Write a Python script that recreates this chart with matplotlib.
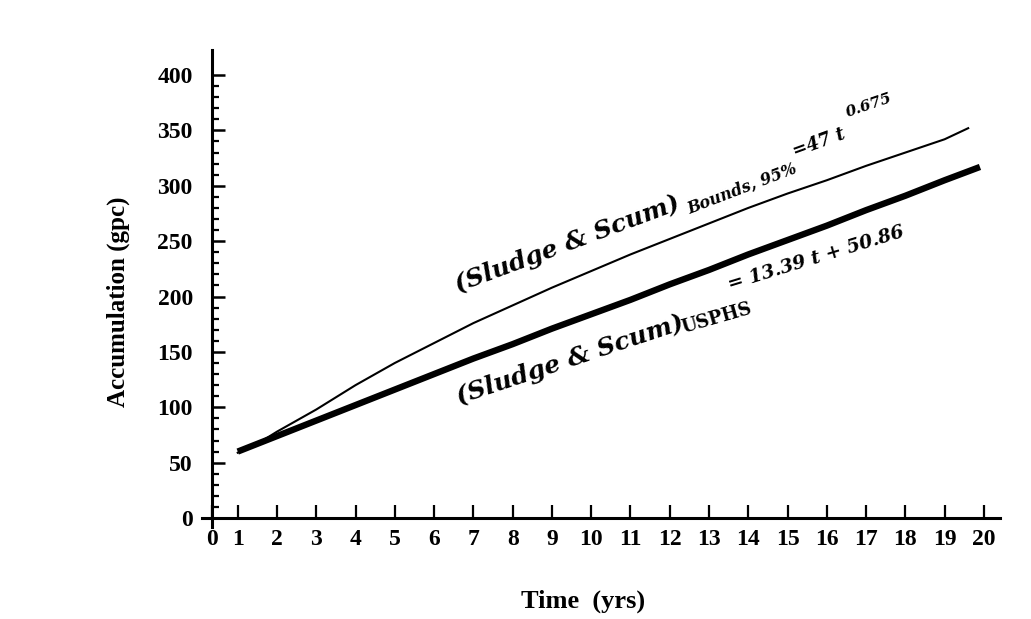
import numpy as np
import matplotlib
matplotlib.use("Agg")
import matplotlib.pyplot as plt

# values (gallons per capita vs years)
t_usphs = [1, 2, 3, 4, 5, 6, 7, 8, 9, 10, 11, 12, 13, 14, 15, 16, 17, 18, 19, 19.9]
acc_usphs = [60, 74, 88, 102, 116, 130, 144, 157, 171, 184, 197, 211, 224, 238, 251, 264, 278, 291, 305, 317]

t_bounds = [1, 1.5, 2, 3, 4, 5, 6, 7, 8, 9, 10, 11, 12, 13, 14, 15, 16, 17, 18, 19, 19.6]
acc_bounds = [59, 67, 78, 98, 120, 140, 158, 176, 192, 208, 223, 238, 252, 266, 280, 293, 305, 318, 330, 342, 352]

x_ticks = [0, 1, 2, 3, 4, 5, 6, 7, 8, 9, 10, 11, 12, 13, 14, 15, 16, 17, 18, 19, 20]
y_major = [0, 50, 100, 150, 200, 250, 300, 350, 400]

plt.rcParams['font.family'] = 'Liberation Serif'
plt.rcParams['font.weight'] = 'bold'

W, H = 1031, 619
fig = plt.figure(figsize=(W / 100, H / 100), dpi=100)
ax = fig.add_axes([202 / W, 1 - 527 / H, (1000 - 202) / W, (527 - 50) / H])

# the hand drawn axis puts "0" closer to "1" than the other spacings
x0 = 0.35
ax.set_xlim(0.09, 20.41)
ax.set_ylim(-8.1, 422.6)

ax.plot(t_usphs, acc_usphs, color='black', lw=4.6, solid_capstyle='butt')
ax.plot(t_bounds, acc_bounds, color='black', lw=1.5)

for s in ['top', 'right']:
    ax.spines[s].set_visible(False)
ax.spines['left'].set_position(('data', x0))
ax.spines['bottom'].set_position(('data', 0))
ax.spines['left'].set_linewidth(2.2)
ax.spines['bottom'].set_linewidth(2.2)

ax.set_xticks([x0] + x_ticks[1:])
ax.set_xticklabels([str(v) for v in x_ticks])
ax.set_yticks(y_major)
ax.set_yticks(np.arange(10, 400, 10), minor=True)
ax.tick_params(axis='x', direction='in', length=9.5, width=1.6, pad=8, labelsize=17)
ax.tick_params(axis='y', which='major', direction='in', length=9.5, width=1.8, pad=14, labelsize=17)
ax.tick_params(axis='y', which='minor', direction='in', length=5, width=1.6)

fig.text(118 / W, 1 - 302 / H, 'Accumulation (gpc)', rotation=90, ha='center', va='center',
         fontsize=18, fontweight='bold')
fig.text(583 / W, 1 - 601 / H, 'Time  (yrs)', ha='center', va='center',
         fontsize=19, fontweight='bold')


def lbl(x, y, s, fs, rot, style='italic'):
    ax.text(x, y, s, fontsize=fs, rotation=rot, rotation_mode='anchor',
            ha='left', va='baseline', family='DejaVu Serif', style=style, weight='bold')


# upper curve label
lbl(6.61, 204, '(Sludge & Scum)', 18, 20.5)
lbl(12.51, 275, 'Bounds, 95%', 11.5, 21)
lbl(15.18, 326, '=47 t', 13, 20)
lbl(16.53, 362, '0.675', 11, 19)

# lower curve label
lbl(6.65, 103, '(Sludge & Scum)', 18, 18.5)
lbl(12.35, 167, 'USPHS', 13, 16, style='normal')
lbl(13.53, 206, '= 13.39 t + 50.86', 13.5, 17)

fig.savefig('out.png', dpi=100)
